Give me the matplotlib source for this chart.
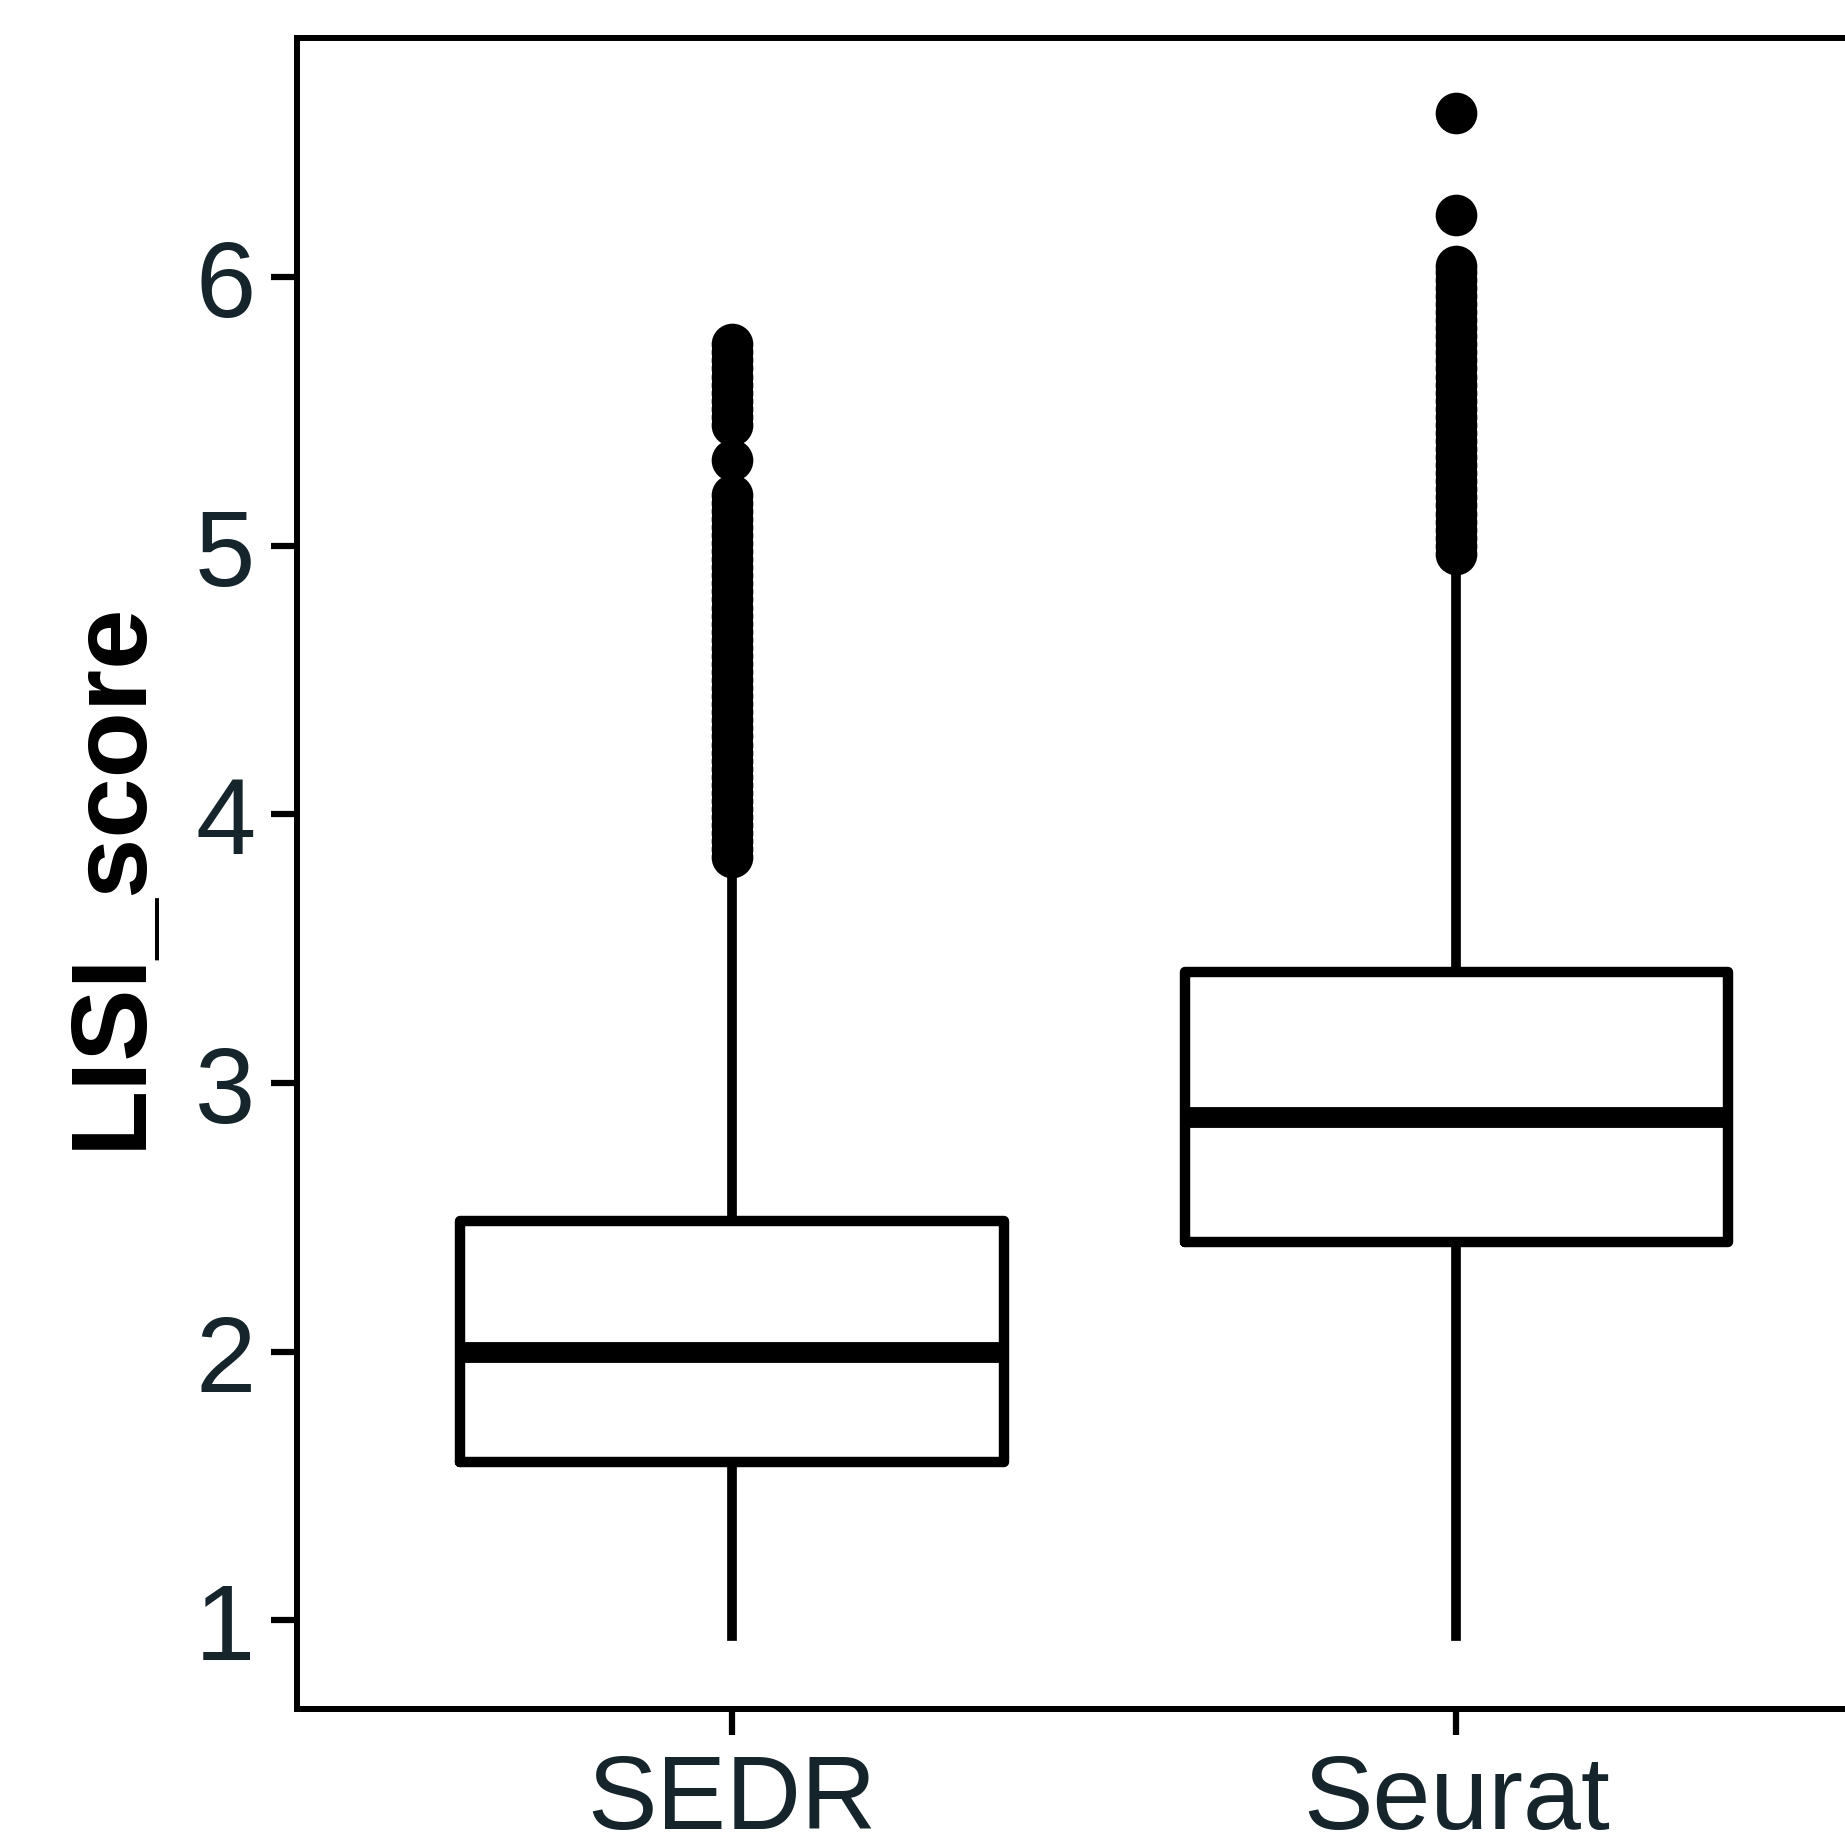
import matplotlib

matplotlib.use("Agg")
import matplotlib.pyplot as plt

# summary stats
methods = ["SEDR", "Seurat"]
q1 = [1.59, 2.41]
median = [2.00, 2.875]
q3 = [2.485, 3.415]
whisker_low = [0.94, 0.94]
whisker_high = [3.80, 4.92]

# outliers (dense columns above the whiskers)
sedr_outliers = [3.84, 3.87, 3.90, 3.93, 3.96, 3.99, 4.02, 4.05, 4.08, 4.11,
                 4.14, 4.17, 4.20, 4.23, 4.26, 4.29, 4.32, 4.35, 4.38, 4.41,
                 4.44, 4.47, 4.50, 4.53, 4.56, 4.59, 4.62, 4.65, 4.68, 4.71,
                 4.74, 4.77, 4.80, 4.83, 4.86, 4.89, 4.92, 4.95, 4.98, 5.01,
                 5.04, 5.07, 5.10, 5.13, 5.16, 5.19,
                 5.32,
                 5.45, 5.48, 5.51, 5.54, 5.57, 5.60, 5.63, 5.66, 5.69, 5.72,
                 5.75]
seurat_outliers = [4.97, 5.00, 5.03, 5.06, 5.09, 5.12, 5.15, 5.18, 5.21, 5.24,
                   5.27, 5.30, 5.33, 5.36, 5.39, 5.42, 5.45, 5.48, 5.51, 5.54,
                   5.57, 5.60, 5.63, 5.66, 5.69, 5.72, 5.75, 5.78, 5.81, 5.84,
                   5.87, 5.90, 5.93, 5.96, 5.99, 6.02, 6.04,
                   6.23, 6.61]
outliers = [sedr_outliers, seurat_outliers]

yticks = [1, 2, 3, 4, 5, 6]

plt.rcParams["font.family"] = ["Liberation Sans", "DejaVu Sans"]

fig = plt.figure(figsize=(18.45, 18.49), dpi=100)
ax = fig.add_axes([0.161, 0.0752, 0.864, 0.9037])

stats = []
for i, name in enumerate(methods):
    stats.append(dict(label=name, q1=q1[i], med=median[i], q3=q3[i],
                      whislo=whisker_low[i], whishi=whisker_high[i],
                      fliers=outliers[i]))

ax.bxp(stats, positions=[1, 2], widths=0.75, showcaps=False,
       boxprops=dict(color="black", linewidth=7.5, solid_joinstyle="round",
                     solid_capstyle="round"),
       medianprops=dict(color="black", linewidth=15, solid_capstyle="butt"),
       whiskerprops=dict(color="black", linewidth=7),
       flierprops=dict(marker="o", markerfacecolor="black",
                       markeredgecolor="black", markersize=30,
                       markeredgewidth=0))

ax.set_xlim(0.4, 2.6)
ax.set_ylim(0.67, 6.89)
ax.set_yticks(yticks)
ax.set_yticklabels([str(t) for t in yticks])

for s in ax.spines.values():
    s.set_linewidth(4.3)
    s.set_color("black")

ax.tick_params(axis="both", length=19, width=4.5, color="black",
               labelcolor="#15252b")
ax.tick_params(axis="y", labelsize=78, pad=11)
ax.tick_params(axis="x", labelsize=75, pad=13)
ax.set_ylabel("LISI_score", fontsize=78, fontweight="bold", labelpad=24)

fig.savefig("out.png", dpi=100)
